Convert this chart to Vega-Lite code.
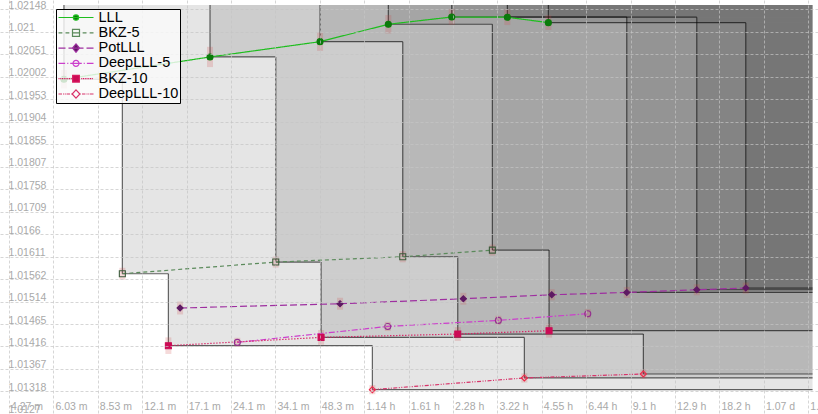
{
  "$schema": "https://vega.github.io/schema/vega-lite/v6.json",
  "width": 818,
  "height": 414,
  "padding": 0,
  "autosize": {"type": "none"},
  "background": "#ffffff",
  "config": {"view": {"stroke": null}},
  "datasets": {
    "runs": [
      {"series": "LLL", "dim": 1, "time": 393, "value": 1.019965, "err": 0.0002},
      {"series": "LLL", "dim": 2, "time": 1229, "value": 1.020449, "err": 0.00022},
      {"series": "LLL", "dim": 3, "time": 2901, "value": 1.020781, "err": 0.0002},
      {"series": "LLL", "dim": 4, "time": 4943, "value": 1.021159, "err": 0.0002},
      {"series": "LLL", "dim": 5, "time": 8109, "value": 1.021317, "err": 0.00017},
      {"series": "LLL", "dim": 6, "time": 12516, "value": 1.021312, "err": 0.00017},
      {"series": "LLL", "dim": 7, "time": 17236, "value": 1.021194, "err": 0.00016},
      {"series": "BKZ-5", "dim": 1, "time": 620, "value": 1.01574, "err": 0.00013},
      {"series": "BKZ-5", "dim": 2, "time": 2053, "value": 1.015994, "err": 0.00012},
      {"series": "BKZ-5", "dim": 3, "time": 5532, "value": 1.016109, "err": 0.00012},
      {"series": "BKZ-5", "dim": 4, "time": 11134, "value": 1.016254, "err": 0.00012},
      {"series": "PotLLL", "dim": 1, "time": 973, "value": 1.014996, "err": 0.00014},
      {"series": "PotLLL", "dim": 2, "time": 3391, "value": 1.015089, "err": 0.00013},
      {"series": "PotLLL", "dim": 3, "time": 8878, "value": 1.015197, "err": 0.00013},
      {"series": "PotLLL", "dim": 4, "time": 17700, "value": 1.015284, "err": 0.00012},
      {"series": "PotLLL", "dim": 5, "time": 31786, "value": 1.015334, "err": 0.00012},
      {"series": "PotLLL", "dim": 6, "time": 54896, "value": 1.015393, "err": 0.00012},
      {"series": "PotLLL", "dim": 7, "time": 80472, "value": 1.01543, "err": 0.00012},
      {"series": "DeepLLL-5", "dim": 1, "time": 1521, "value": 1.014249, "err": 0.0001},
      {"series": "DeepLLL-5", "dim": 2, "time": 4921, "value": 1.014596, "err": 0.0001},
      {"series": "DeepLLL-5", "dim": 3, "time": 11667, "value": 1.014727, "err": 0.0001},
      {"series": "DeepLLL-5", "dim": 4, "time": 23444, "value": 1.014872, "err": 0.0001},
      {"series": "BKZ-10", "dim": 1, "time": 888, "value": 1.014178, "err": 0.00018},
      {"series": "BKZ-10", "dim": 2, "time": 2924, "value": 1.014358, "err": 0.00016},
      {"series": "BKZ-10", "dim": 3, "time": 8498, "value": 1.014431, "err": 0.00015},
      {"series": "BKZ-10", "dim": 4, "time": 17331, "value": 1.014503, "err": 0.00015},
      {"series": "DeepLLL-10", "dim": 1, "time": 4364, "value": 1.013223, "err": 0.0001},
      {"series": "DeepLLL-10", "dim": 2, "time": 14291, "value": 1.013477, "err": 0.0001},
      {"series": "DeepLLL-10", "dim": 3, "time": 36182, "value": 1.013563, "err": 0.0001}
    ],
    "paretoSteps": [
      {"dim": 1, "time": 393, "value": 1.019965, "until": 620, "top": 1.021578},
      {"dim": 1, "time": 620, "value": 1.01574, "until": 888, "top": 1.019965},
      {"dim": 1, "time": 888, "value": 1.014178, "until": 4364, "top": 1.01574},
      {"dim": 1, "time": 4364, "value": 1.013223, "until": 135540, "top": 1.014178},
      {"dim": 2, "time": 1229, "value": 1.020449, "until": 2053, "top": 1.021578},
      {"dim": 2, "time": 2053, "value": 1.015994, "until": 2924, "top": 1.020449},
      {"dim": 2, "time": 2924, "value": 1.014358, "until": 14291, "top": 1.015994},
      {"dim": 2, "time": 14291, "value": 1.013477, "until": 135540, "top": 1.014358},
      {"dim": 3, "time": 2901, "value": 1.020781, "until": 5532, "top": 1.021578},
      {"dim": 3, "time": 5532, "value": 1.016109, "until": 8498, "top": 1.020781},
      {"dim": 3, "time": 8498, "value": 1.014431, "until": 36182, "top": 1.016109},
      {"dim": 3, "time": 36182, "value": 1.013563, "until": 135540, "top": 1.014431},
      {"dim": 4, "time": 4943, "value": 1.021159, "until": 11134, "top": 1.021578},
      {"dim": 4, "time": 11134, "value": 1.016254, "until": 17331, "top": 1.021159},
      {"dim": 4, "time": 17331, "value": 1.014503, "until": 135540, "top": 1.016254},
      {"dim": 5, "time": 8109, "value": 1.021317, "until": 31786, "top": 1.021578},
      {"dim": 5, "time": 31786, "value": 1.015334, "until": 135540, "top": 1.021317},
      {"dim": 6, "time": 12516, "value": 1.021312, "until": 54896, "top": 1.021578},
      {"dim": 6, "time": 54896, "value": 1.015393, "until": 135540, "top": 1.021312},
      {"dim": 7, "time": 17236, "value": 1.021194, "until": 80472, "top": 1.021578},
      {"dim": 7, "time": 80472, "value": 1.01543, "until": 135540, "top": 1.021194}
    ]
  },
  "layer": [
    {
      "data": {"name": "paretoSteps"},
      "mark": {"type": "rect", "color": "#000000", "opacity": 0.1},
      "encoding": {
        "x": {
          "field": "time", "type": "quantitative", "title": null,
          "scale": {"type": "log", "domain": [238.6, 141400], "nice": false},
          "axis": {
            "orient": "bottom",
            "values": [256, 362.039, 512, 724.077, 1024, 1448.155, 2048, 2896.309, 4096, 5792.619, 8192, 11585.238, 16384, 23170.475, 32768, 46340.95, 65536, 92681.9, 131072],
            "tickCount": 40,
            "labelExpr": "datum.value < 3600 ? format(datum.value / 60, '.3~') + ' m' : datum.value < 86400 ? format(datum.value / 3600, '.3~') + ' h' : format(datum.value / 86400, '.3~') + ' d'",
            "domain": false, "ticks": false,
            "grid": true, "gridColor": "#c4c4c4", "gridOpacity": 0.7, "gridDash": [3, 2],
            "labelAlign": "left", "labelBaseline": "alphabetic", "labelPadding": -5, "labelOffset": 1.5,
            "labelFont": "Liberation Sans", "labelFontSize": 10.5, "labelColor": "#a9a9a9",
            "labelFlush": false, "labelOverlap": false, "zindex": 1
          }
        },
        "x2": {"datum": 135540},
        "y": {
          "field": "value", "type": "quantitative", "title": null,
          "scale": {"domain": [1.012694, 1.021686], "nice": false, "zero": false},
          "axis": {
            "orient": "left",
            "values": [1.0126953125, 1.01318359375, 1.013671875, 1.01416015625, 1.0146484375, 1.01513671875, 1.015625, 1.01611328125, 1.0166015625, 1.01708984375, 1.017578125, 1.01806640625, 1.0185546875, 1.01904296875, 1.01953125, 1.02001953125, 1.0205078125, 1.02099609375, 1.021484375],
            "tickCount": 40,
            "labelExpr": "format(datum.value - 1e-9, '.6~')",
            "domain": false, "ticks": false,
            "grid": true, "gridColor": "#c4c4c4", "gridOpacity": 0.7, "gridDash": [3, 2],
            "labelAlign": "left", "labelBaseline": "alphabetic", "labelPadding": -8, "labelOffset": -1,
            "labelFont": "Liberation Sans", "labelFontSize": 10.5, "labelColor": "#a9a9a9",
            "labelFlush": false, "labelOverlap": false, "zindex": 1
          }
        },
        "y2": {"field": "top"}
      }
    },
    {
      "data": {"name": "paretoSteps"},
      "mark": {"type": "rule", "color": "#000000", "opacity": 0.6, "strokeWidth": 1.2},
      "encoding": {
        "x": {"field": "time", "type": "quantitative"},
        "x2": {"field": "until"},
        "y": {"field": "value", "type": "quantitative"}
      }
    },
    {
      "data": {"name": "paretoSteps"},
      "mark": {"type": "rule", "color": "#000000", "opacity": 0.6, "strokeWidth": 1.2},
      "encoding": {
        "x": {"field": "time", "type": "quantitative"},
        "y": {"field": "value", "type": "quantitative"},
        "y2": {"field": "top"}
      }
    },
    {
      "data": {"name": "runs"},
      "transform": [
        {"calculate": "datum.value - datum.err", "as": "lo"},
        {"calculate": "datum.value + datum.err", "as": "hi"}
      ],
      "mark": {"type": "rule", "color": "#cc4444", "opacity": 0.2, "strokeWidth": 6},
      "encoding": {
        "x": {"field": "time", "type": "quantitative"},
        "y": {"field": "lo", "type": "quantitative"},
        "y2": {"field": "hi"}
      }
    },
    {
      "data": {"name": "runs"},
      "mark": {"type": "line", "strokeWidth": 1.2},
      "encoding": {
        "x": {"field": "time", "type": "quantitative"},
        "y": {"field": "value", "type": "quantitative"},
        "color": {
          "field": "series", "type": "nominal",
          "scale": {
            "domain": ["LLL", "BKZ-5", "PotLLL", "DeepLLL-5", "BKZ-10", "DeepLLL-10"],
            "range": ["#1ebe1e", "#5b8a5b", "#9e2fa0", "#cc3fcc", "#d81b60", "#d8336a"]
          },
          "legend": {
            "title": null,
            "orient": "none", "legendX": 56, "legendY": 9,
            "fillColor": "rgba(250,250,250,0.82)", "strokeColor": "#000000", "padding": 1.5,
            "symbolSize": 1225, "symbolStrokeWidth": 1.2, "clipHeight": 14, "rowPadding": 0.3,
            "symbolType": {"expr": "datum.value === 'LLL' ? 'M-1,0H1M-0.15,0A0.15,0.15,0,1,0,0.15,0A0.15,0.15,0,1,0,-0.15,0Z' : datum.value === 'BKZ-5' ? 'M-1,0H-0.78M-0.6,0H-0.38M-0.2,0H0.2M0.38,0H0.6M0.78,0H1M-0.2,-0.2H0.2V0.2H-0.2Z' : datum.value === 'PotLLL' ? 'M-1,0H-0.6M-0.43,0H0.43M0.6,0H1M0,-0.24L0.2,0L0,0.24L-0.2,0Z' : datum.value === 'DeepLLL-5' ? 'M-1,0H-0.62M-0.5,0H-0.44M-0.33,0H0.33M0.44,0H0.5M0.62,0H1M-0.17,0A0.17,0.17,0,1,0,0.17,0A0.17,0.17,0,1,0,-0.17,0Z' : datum.value === 'BKZ-10' ? 'M-1,0h0.06M-0.9,0h0.06M-0.8,0h0.06M-0.7,0h0.06M-0.6,0h0.06M-0.5,0h0.06M-0.4,0h0.06M-0.3,0h0.06M0.3,0h0.06M0.4,0h0.06M0.5,0h0.06M0.6,0h0.06M0.7,0h0.06M0.8,0h0.06M0.9,0h0.06M-0.19,-0.19H0.19V0.19H-0.19Z' : 'M-1,0H-0.8M-0.74,0h0.06M-0.64,0h0.06M-0.54,0H-0.34M-0.28,0h0.06M0.22,0h0.06M0.34,0H0.54M0.6,0h0.06M0.7,0h0.06M0.8,0H1M0,-0.24L0.22,0L0,0.24L-0.22,0Z'"},
            "symbolFillColor": {"expr": "datum.value === 'LLL' ? '#0b7a0b' : datum.value === 'PotLLL' ? '#5e1a63' : datum.value === 'BKZ-10' ? '#cc0a55' : 'transparent'"},
            "labelFont": "Liberation Sans", "labelFontSize": 14.5, "labelColor": "#000000", "labelOffset": 4, "labelLimit": 0,
            "zindex": 2
          }
        },
        "strokeDash": {
          "field": "series", "type": "nominal",
          "scale": {
            "range": [[1.3, 1.7], [4, 3], [4, 1.5, 1, 1.5, 1, 1.5], [6, 2, 1.5, 2], [1, 0], [7, 3]]
          },
          "legend": null
        }
      }
    },
    {
      "data": {"name": "runs"},
      "mark": {"type": "point", "opacity": 1, "strokeWidth": 1.1, "size": 36},
      "encoding": {
        "x": {"field": "time", "type": "quantitative"},
        "y": {"field": "value", "type": "quantitative"},
        "shape": {
          "field": "series", "type": "nominal",
          "scale": {"range": ["square", "square", "diamond", "circle", "circle", "diamond"]},
          "legend": null
        },
        "fill": {
          "field": "series", "type": "nominal",
          "scale": {"range": ["#cc0a55", "transparent", "transparent", "transparent", "#0b7a0b", "#5e1a63"]},
          "legend": null
        },
        "stroke": {
          "field": "series", "type": "nominal",
          "scale": {"range": ["#cc0a55", "#3d5c3d", "#ee2a4a", "#932f8f", "#0b7a0b", "#5e1a63"]},
          "legend": null
        }
      }
    }
  ]
}
